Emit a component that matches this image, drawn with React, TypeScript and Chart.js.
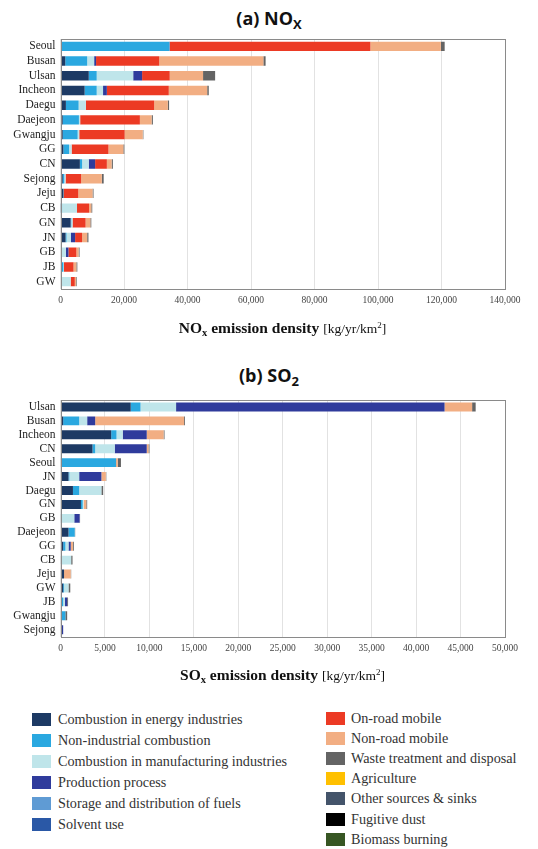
import React, { useEffect, useRef } from "react";
import Chart from "chart.js/auto";

// ---------- Data ----------
const sourceNames = [
  "Combustion in energy industries",
  "Non-industrial combustion",
  "Combustion in manufacturing industries",
  "Production process",
  "Storage and distribution of fuels",
  "Solvent use",
  "On-road mobile",
  "Non-road mobile",
  "Waste treatment and disposal",
  "Agriculture",
  "Other sources & sinks",
  "Fugitive dust",
  "Biomass burning",
];
const sourceColors = [
  "#1d3a64", "#2aa8e0", "#bfe5ea", "#2f3b9c", "#5f9bd4", "#2a58a6",
  "#ec3a24", "#f2ae83", "#646464", "#ffc000", "#44546a", "#000000", "#375623",
];

const noxRegions = ["Seoul", "Busan", "Ulsan", "Incheon", "Daegu", "Daejeon", "Gwangju", "GG", "CN", "Sejong", "Jeju", "CB", "GN", "JN", "GB", "JB", "GW"];
const noxEnergy = [300, 1500, 8900, 7600, 1700, 700, 700, 900, 6100, 700, 900, 100, 3200, 1600, 200, 400, 300];
const noxNonInd = [34000, 6900, 2500, 3800, 4000, 5100, 4700, 1800, 700, 500, 100, 400, 200, 300, 100, 500, 100];
const noxManuf = [0, 2200, 11500, 2000, 2300, 400, 500, 800, 2100, 400, 0, 4700, 400, 1400, 1400, 200, 2800];
const noxProd = [100, 600, 2800, 1200, 0, 0, 0, 0, 2000, 0, 0, 0, 0, 1300, 800, 0, 0];
const noxStorage = [0, 0, 0, 0, 0, 0, 0, 0, 0, 0, 0, 0, 0, 0, 0, 0, 0];
const noxSolvent = [0, 0, 0, 0, 0, 0, 0, 0, 0, 0, 0, 0, 0, 0, 0, 0, 0];
const noxOnRoad = [63200, 19900, 8700, 19500, 21500, 18800, 14300, 11600, 3700, 4900, 4600, 3800, 4100, 2200, 2500, 3000, 1300];
const noxNonRoad = [22200, 32800, 10500, 12100, 4300, 3700, 5700, 4700, 1500, 6500, 4500, 700, 1500, 1600, 700, 900, 400];
const noxWaste = [1200, 700, 3800, 500, 400, 400, 200, 300, 400, 600, 300, 300, 300, 400, 300, 300, 200];
const noxAgri = [0, 0, 0, 0, 0, 0, 0, 0, 0, 0, 0, 0, 0, 0, 0, 0, 0];
const noxOther = [0, 0, 0, 0, 0, 0, 0, 0, 0, 0, 0, 0, 0, 0, 0, 0, 0];
const noxDust = [0, 0, 0, 0, 0, 0, 0, 0, 0, 0, 0, 0, 0, 0, 0, 0, 0];
const noxBiomass = [0, 0, 0, 0, 0, 0, 0, 0, 0, 0, 0, 0, 0, 0, 0, 0, 0];

const so2Regions = ["Ulsan", "Busan", "Incheon", "CN", "Seoul", "JN", "Daegu", "GN", "GB", "Daejeon", "GG", "CB", "Jeju", "GW", "JB", "Gwangju", "Sejong"];
const so2Energy = [7900, 300, 5700, 3600, 50, 900, 1400, 2300, 50, 900, 300, 50, 400, 300, 100, 50, 0];
const so2NonInd = [1100, 1800, 600, 300, 6200, 100, 700, 200, 100, 700, 250, 100, 0, 100, 200, 500, 0];
const so2Manuf = [4000, 900, 700, 2200, 0, 1100, 2500, 100, 1400, 0, 350, 1050, 0, 500, 200, 0, 0];
const so2Prod = [30200, 900, 2700, 3600, 0, 2500, 0, 0, 600, 0, 250, 0, 0, 0, 250, 0, 300];
const so2Storage = [0, 0, 0, 0, 0, 0, 0, 0, 0, 0, 0, 0, 0, 0, 0, 0, 0];
const so2Solvent = [0, 0, 0, 0, 0, 0, 0, 0, 0, 0, 0, 0, 0, 0, 0, 0, 0];
const so2OnRoad = [0, 0, 0, 0, 0, 0, 0, 0, 0, 0, 0, 0, 0, 0, 0, 0, 0];
const so2NonRoad = [3100, 10000, 1900, 200, 200, 500, 0, 300, 0, 0, 250, 0, 750, 0, 0, 0, 0];
const so2Waste = [400, 100, 100, 100, 350, 50, 200, 100, 50, 50, 100, 150, 50, 200, 100, 200, 0];
const so2Agri = [0, 0, 0, 0, 0, 0, 0, 0, 0, 0, 0, 0, 0, 0, 0, 0, 0];
const so2Other = [0, 0, 0, 0, 0, 0, 0, 0, 0, 0, 0, 0, 0, 0, 0, 0, 0];
const so2Dust = [0, 0, 0, 0, 0, 0, 0, 0, 0, 0, 0, 0, 0, 0, 0, 0, 0];
const so2Biomass = [0, 0, 0, 0, 0, 0, 0, 0, 0, 0, 0, 0, 0, 0, 0, 0, 0];

const noxSeries = [noxEnergy, noxNonInd, noxManuf, noxProd, noxStorage, noxSolvent, noxOnRoad, noxNonRoad, noxWaste, noxAgri, noxOther, noxDust, noxBiomass];
const so2Series = [so2Energy, so2NonInd, so2Manuf, so2Prod, so2Storage, so2Solvent, so2OnRoad, so2NonRoad, so2Waste, so2Agri, so2Other, so2Dust, so2Biomass];

const noxMax = 140000;
const noxStep = 20000;
const so2Max = 50000;
const so2Step = 5000;

// ---------- Chart ----------
const frameBox = {
  id: "frameBox",
  afterDatasetsDraw(chart: any) {
    const { ctx, chartArea } = chart;
    const { left, top, right, bottom } = chartArea;
    ctx.save();
    ctx.strokeStyle = "#8a8a8a";
    ctx.lineWidth = 1;
    ctx.strokeRect(Math.round(left) + 0.5, Math.round(top) + 0.5, Math.round(right - left) - 1, Math.round(bottom - top));
    ctx.restore();
  },
};

function BarChart(props: {
  regions: string[];
  series: number[][];
  max: number;
  step: number;
  top: number;
  height: number;
  padTop: number;
  xAxisHeight: number;
}) {
  const ref = useRef<HTMLCanvasElement | null>(null);
  useEffect(() => {
    if (!ref.current) return;
    const chart = new Chart(ref.current, {
      type: "bar",
      data: {
        labels: props.regions,
        datasets: props.series.map((d, i) => ({
          label: sourceNames[i],
          data: d,
          backgroundColor: sourceColors[i],
          borderWidth: 0,
          barPercentage: 0.64,
          categoryPercentage: 1,
        })),
      },
      options: {
        indexAxis: "y",
        animation: false,
        responsive: false,
        maintainAspectRatio: false,
        layout: { padding: { top: props.padTop, right: 33, left: 0, bottom: 0 } },
        plugins: { legend: { display: false }, title: { display: false }, tooltip: { enabled: false } },
        scales: {
          x: {
            stacked: true,
            min: 0,
            max: props.max,
            afterFit: (s: any) => { s.height = props.xAxisHeight; },
            ticks: {
              stepSize: props.step,
              autoSkip: false,
              maxRotation: 0,
              padding: 6,
              color: "#444",
              font: { family: "'Liberation Serif', serif", size: 9.5 },
              callback: (v: any) => Number(v).toLocaleString("en-US"),
            },
            grid: { color: "#e2e2e2", drawTicks: false },
            border: { display: false },
          },
          y: {
            stacked: true,
            afterFit: (s: any) => { s.width = 60.5; },
            ticks: {
              autoSkip: false,
              padding: 5,
              color: "#222",
              font: { family: "'Liberation Serif', serif", size: 11.5 },
            },
            grid: { display: false, drawTicks: false },
            border: { display: false },
          },
        },
      },
      plugins: [frameBox],
    });
    return () => chart.destroy();
  }, []);
  return (
    <canvas
      ref={ref}
      width={538}
      height={props.height}
      style={{ position: "absolute", left: 0, top: props.top, width: 538, height: props.height }}
    />
  );
}

const titleStyle: React.CSSProperties = {
  position: "absolute",
  left: 0,
  width: 538,
  textAlign: "center",
  fontFamily: "'Open Sans', 'Noto Sans', sans-serif",
  fontWeight: 700,
  fontSize: 18,
  color: "#111",
  lineHeight: "22px",
};

const axisTitleStyle: React.CSSProperties = {
  position: "absolute",
  left: 60,
  width: 445,
  textAlign: "center",
  fontFamily: "'Liberation Serif', serif",
  color: "#111",
  lineHeight: "18px",
  whiteSpace: "nowrap",
};

export default function App() {
  const leftIdx = [0, 1, 2, 3, 4, 5];
  const rightIdx = [6, 7, 8, 9, 10, 11, 12];
  return (
    <div style={{ position: "absolute", left: 0, top: 0, width: 538, height: 849, background: "#fff", overflow: "hidden" }}>
      <div style={{ ...titleStyle, top: 7 }}>
        (a) NO<sub style={{ fontSize: 13, verticalAlign: "-4px" }}>X</sub>
      </div>
      <BarChart regions={noxRegions} series={noxSeries} max={noxMax} step={noxStep} top={0} height={320} padTop={39} xAxisHeight={31} />
      <div style={{ ...axisTitleStyle, top: 316 }}>
        <span style={{ fontWeight: 700, fontSize: 15.5 }}>
          NO<sub style={{ fontSize: 10.5, verticalAlign: "-3px" }}>x</sub> emission density
        </span>{" "}
        <span style={{ fontSize: 13.5 }}>
          [kg/yr/km<sup style={{ fontSize: 9, verticalAlign: "5px" }}>2</sup>]
        </span>
      </div>

      <div style={{ ...titleStyle, top: 364 }}>
        (b) SO<sub style={{ fontSize: 13, verticalAlign: "-4px" }}>2</sub>
      </div>
      <BarChart regions={so2Regions} series={so2Series} max={so2Max} step={so2Step} top={340} height={320} padTop={60} xAxisHeight={23.3} />
      <div style={{ ...axisTitleStyle, top: 663 }}>
        <span style={{ fontWeight: 700, fontSize: 15.5 }}>
          SO<sub style={{ fontSize: 10.5, verticalAlign: "-3px" }}>x</sub> emission density
        </span>{" "}
        <span style={{ fontSize: 13.5 }}>
          [kg/yr/km<sup style={{ fontSize: 9, verticalAlign: "5px" }}>2</sup>]
        </span>
      </div>

      {leftIdx.map((i, k) => (
        <div key={i} style={{ position: "absolute", left: 32, top: 719 + k * 21.1 - 8, height: 16, display: "flex", alignItems: "center" }}>
          <div style={{ width: 19, height: 13, background: sourceColors[i] }} />
          <span style={{ marginLeft: 7, fontFamily: "'Liberation Serif', serif", fontSize: 14.2, color: "#333", whiteSpace: "nowrap" }}>{sourceNames[i]}</span>
        </div>
      ))}
      {rightIdx.map((i, k) => (
        <div key={i} style={{ position: "absolute", left: 326, top: 718.5 + k * 20.1 - 8, height: 16, display: "flex", alignItems: "center" }}>
          <div style={{ width: 19, height: 13, background: sourceColors[i] }} />
          <span style={{ marginLeft: 6, fontFamily: "'Liberation Serif', serif", fontSize: 14.2, color: "#333", whiteSpace: "nowrap" }}>{sourceNames[i]}</span>
        </div>
      ))}
    </div>
  );
}
